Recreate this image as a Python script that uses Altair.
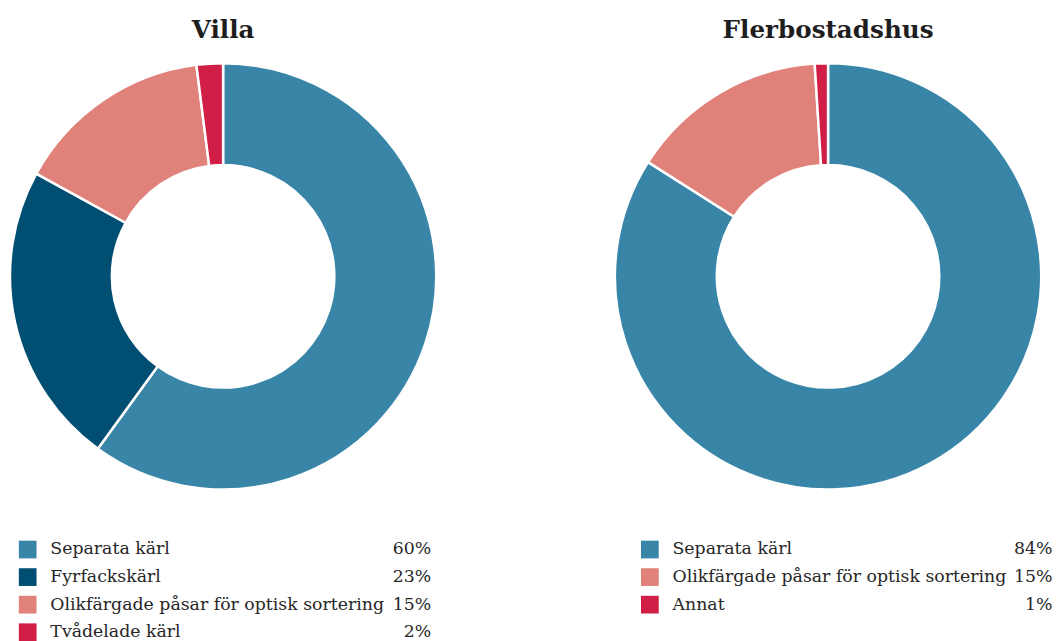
import altair as alt
import pandas as pd

# Data
villa_categories = ["Separata kärl", "Fyrfackskärl", "Olikfärgade påsar för optisk sortering", "Tvådelade kärl"]
villa_values = [60, 23, 15, 2]

flerbo_categories = ["Separata kärl", "Olikfärgade påsar för optisk sortering", "Annat"]
flerbo_values = [84, 15, 1]

all_categories = ["Separata kärl", "Fyrfackskärl", "Olikfärgade påsar för optisk sortering", "Tvådelade kärl", "Annat"]
palette = ["#3885a8", "#004f72", "#e0817a", "#d11e46", "#d11e46"]

FONT = "DejaVu Serif"
color_scale = alt.Scale(domain=all_categories, range=palette)


def panel(title, cats, vals, sq_x, lab_x, pct_x):
    df = pd.DataFrame({
        "kategori": cats,
        "andel": vals,
        "ordning": list(range(len(cats))),
        "etikett": [f"{v}%" for v in vals],
    })
    donut = alt.Chart(
        df,
        title=alt.Title(title, fontSize=25, font=FONT, fontWeight="bold",
                        color="#1e1e1e", anchor="middle", offset=16),
    ).mark_arc(outerRadius=216.5, innerRadius=113, stroke="white", strokeWidth=2.5).encode(
        theta=alt.Theta("andel:Q", stack=True),
        color=alt.Color("kategori:N", scale=color_scale, legend=None),
        order=alt.Order("ordning:Q"),
    ).properties(width=436, height=436)

    base = alt.Chart(df).encode(y=alt.Y("kategori:N", sort=cats, axis=None))
    sq = base.mark_square(size=324, opacity=1).encode(
        x=alt.value(sq_x),
        color=alt.Color("kategori:N", scale=color_scale, legend=None),
    )
    lab = base.mark_text(align="left", baseline="middle", font=FONT, fontSize=17.6,
                         color="#262626").encode(x=alt.value(lab_x), text="kategori:N")
    pct = base.mark_text(align="right", baseline="middle", font=FONT, fontSize=17.6,
                         color="#262626").encode(x=alt.value(pct_x), text="etikett:N")
    legend = alt.layer(sq, lab, pct).properties(width=428, height=alt.Step(28))
    return alt.vconcat(donut, legend, spacing=41.5).resolve_scale(y="independent")


chart = alt.hconcat(
    panel("Villa", villa_categories, villa_values, 19.5, 42.5, 429.5),
    panel("Flerbostadshus", flerbo_categories, flerbo_values, 37, 60, 446),
    spacing=170.5,
).resolve_scale(y="independent", theta="independent").configure_view(stroke=None).properties(
    padding={"left": -3.5, "right": 0, "top": 4.5, "bottom": 0}, background="white"
)

chart.save("out.html", embed_options={"renderer": "svg", "actions": False})
